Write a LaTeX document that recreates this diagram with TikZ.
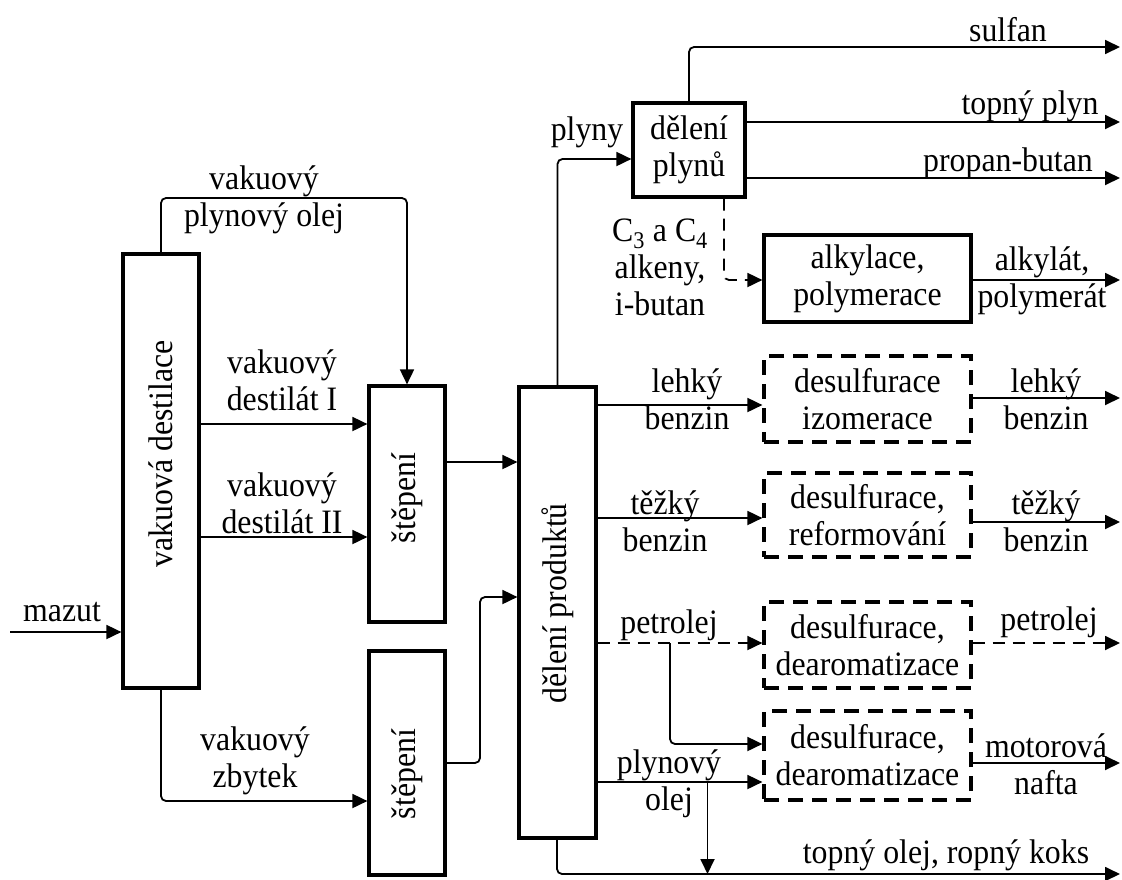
\documentclass[tikz,border=0pt]{standalone}
\usepackage{fontspec}
\setmainfont{Liberation Serif}[FakeStretch=0.93]
\usetikzlibrary{arrows.meta}
\begin{document}
\begin{tikzpicture}[x=1pt,y=-1pt,
  font=\fontsize{34.2}{37}\selectfont,
  box/.style={draw, line width=3.2pt, inner sep=0pt, align=center},
  dbox/.style={box, dash pattern=on 15pt off 9pt},
  con/.style={line width=1.8pt, -{Triangle[length=15pt,width=14pt]}, rounded corners=5pt},
  dcon/.style={con, dash pattern=on 12pt off 8pt},
  lab/.style={align=center, inner sep=0pt}]
\useasboundingbox (0,0) rectangle (1122,879);

% boxes
\node[box, minimum width=76pt, minimum height=434pt] (vd) at (161,471) {};
\node[rotate=90] at ([yshift=17pt]vd.center) {vakuová destilace};
\node[box, minimum width=76pt, minimum height=236pt] (st1) at (407,504) {};
\node[rotate=90] at ([yshift=6pt]st1.center) {štěpení};
\node[box, minimum width=76pt, minimum height=224pt] (st2) at (407,763) {};
\node[rotate=90] at ([yshift=-11pt]st2.center) {štěpení};
\node[box, minimum width=77pt, minimum height=451pt] (dp) at (557.5,612.5) {};
\node[rotate=90] at ([yshift=9pt]dp.center) {dělení produktů};
\node[box, minimum width=112pt, minimum height=94pt] (dpl) at (689,150) {dělení\\plynů};
\node[box, minimum width=207pt, minimum height=87pt] (alk) at (867.5,278.5) {alkylace,\\polymerace};
\node[dbox, minimum width=207pt, minimum height=86pt] (b1) at (867.5,399) {desulfurace\\izomerace};
\node[dbox, minimum width=207pt, minimum height=84pt] (b2) at (867.5,515) {desulfurace,\\reformování};
\node[dbox, minimum width=207pt, minimum height=86pt] (b3) at (867.5,645) {desulfurace,\\dearomatizace};
\node[dbox, minimum width=207pt, minimum height=89pt] (b4) at (867.5,755.5) {desulfurace,\\dearomatizace};

% free ends
\coordinate (mzin) at (10,632);
\coordinate (eSulf) at (1120,47);
\coordinate (eTop) at (1120,122);
\coordinate (eProp) at (1120,178);
\coordinate (eAlk) at (1120,280);
\coordinate (eLb) at (1120,398);
\coordinate (eTb) at (1120,522);
\coordinate (ePet) at (1120,643);
\coordinate (eMot) at (1120,763);
\coordinate (eKoks) at (1120,874);

% connectors left part
\draw[con] (mzin) -- (mzin -| vd.west);
\draw[con] (vd.north) -- (vd.north |- 0,198) -- (st1.north |- 0,198) -- (st1.north);
\draw[con] (vd.east |- 0,424) -- (st1.west |- 0,424);
\draw[con] (vd.east |- 0,537) -- (st1.west |- 0,537);
\draw[con] (vd.south) -- (vd.south |- 0,801) -- (st2.west |- 0,801);
\draw[con] (st1.east |- 0,462) -- (dp.west |- 0,462);
\draw[con] (st2.east |- 0,763) -- (480,763) -- (480,597) -- (dp.west |- 0,597);

% gases
\draw[con] (dp.north) -- (dp.north |- 0,159) -- (dpl.west |- 0,159);
\draw[con] (dpl.north) -- (dpl.north |- eSulf) -- (eSulf);
\draw[con] (dpl.east |- eTop) -- (eTop);
\draw[con] (dpl.east |- eProp) -- (eProp);
\draw[dcon] (dpl.south -| 724,0) -- (724,280) -- (alk.west |- 0,280);
\draw[con] (alk.east |- eAlk) -- (eAlk);

% liquid products
\draw[con] (dp.east |- 0,405) -- (b1.west |- 0,405);
\draw[con] (b1.east |- eLb) -- (eLb);
\draw[con] (dp.east |- 0,518) -- (b2.west |- 0,518);
\draw[con] (b2.east |- eTb) -- (eTb);
\draw[dcon] (dp.east |- 0,643) -- (b3.west |- 0,643);
\draw[dcon] (b3.east |- ePet) -- (ePet);
\draw[con] (670,643) -- (670,744) -- (b4.west |- 0,744);
\draw[con] (dp.east |- 0,782) -- (b4.west |- 0,782);
\draw[con] (b4.east |- eMot) -- (eMot);
\draw[con] (707.5,782) -- (707.5,874);
\draw[con] (dp.south -| 557,0) -- (557,874) -- (eKoks);

% labels
\node[lab] (lMaz) at (62,612) {mazut};
\node[lab] (lVpo) at (264,200) {vakuový\\plynový olej};
\node[lab] (lVd1) at (282,380.5) {vakuový\\destilát I};
\node[lab] (lVd2) at (282,503.5) {vakuový\\destilát II};
\node[lab] (lVz) at (255,761) {vakuový\\zbytek};
\node[lab] (lPly) at (587,132) {plyny};
\node[lab] (lSul) at (1008,30) {sulfan};
\node[lab] (lTop) at (1030,106) {topný plyn};
\node[lab] (lPro) at (1008,163) {propan-butan};
\node[lab] (lC34) at (660,267) {C\textsubscript{3} a C\textsubscript{4}\\alkeny,\\i-butan};
\node[lab] (lAlk) at (1042,280.5) {alkylát,\\polymerát};
\node[lab] (lLb1) at (687,399) {lehký\\benzin};
\node[lab] (lLb2) at (1046,399) {lehký\\benzin};
\node[lab] (lTb1) at (665,521) {těžký\\benzin};
\node[lab] (lTb2) at (1046,521) {těžký\\benzin};
\node[lab] (lPe1) at (669,625) {petrolej};
\node[lab] (lPe2) at (1049,622) {petrolej};
\node[lab] (lPo) at (669,783.5) {plynový\\olej};
\node[lab] (lMn) at (1046,764) {motorová\\nafta};
\node[lab] (lKo) at (946,855) {topný olej, ropný koks};
\end{tikzpicture}
\end{document}
